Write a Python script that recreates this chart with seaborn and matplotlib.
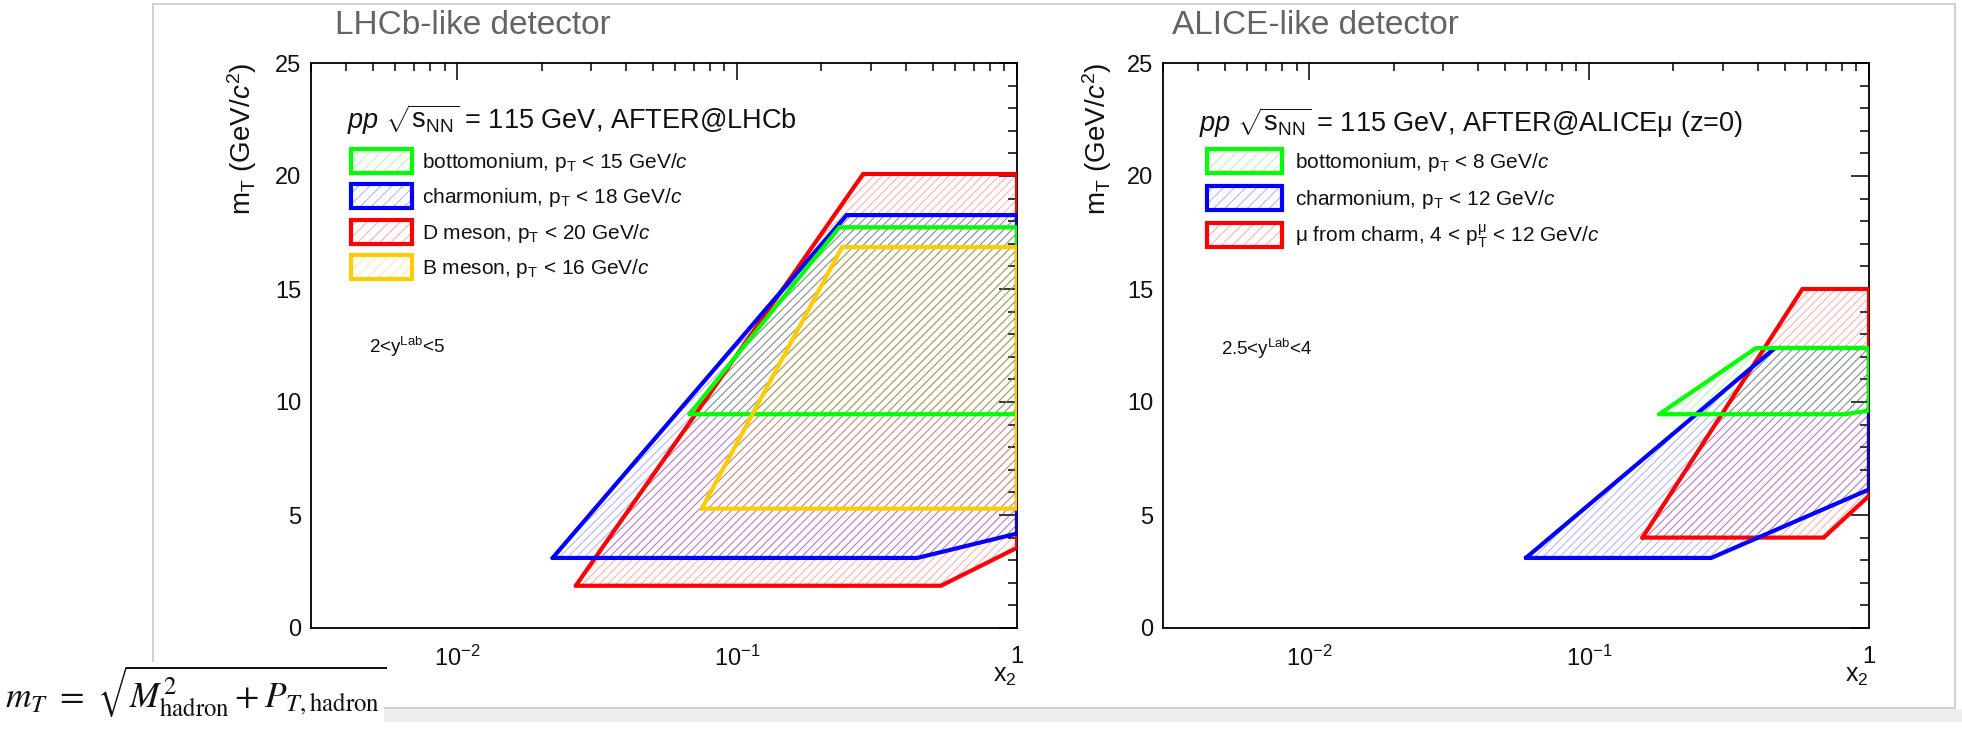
import matplotlib
matplotlib.use("Agg")
import matplotlib.pyplot as plt
import seaborn as sns
from matplotlib.patches import Rectangle, Patch
from matplotlib.legend_handler import HandlerTuple
from matplotlib.ticker import FixedLocator, FixedFormatter, MultipleLocator, LogLocator, NullFormatter

# ---------------- acceptance regions: x2 and mT (GeV/c^2) ----------------
# LHCb-like detector, 2 < y_Lab < 5
lhcb_bottomonium_x2 = [0.0676, 1.0, 1.0, 0.232]
lhcb_bottomonium_mt = [9.46, 9.46, 17.73, 17.73]
lhcb_charmonium_x2 = [0.0219, 0.44, 1.0, 1.0, 0.246]
lhcb_charmonium_mt = [3.10, 3.10, 4.18, 18.27, 18.27]
lhcb_dmeson_x2 = [0.0265, 0.535, 1.0, 1.0, 0.282]
lhcb_dmeson_mt = [1.87, 1.87, 3.55, 20.09, 20.09]
lhcb_bmeson_x2 = [0.0747, 1.0, 1.0, 0.237]
lhcb_bmeson_mt = [5.28, 5.28, 16.85, 16.85]

# ALICE-like detector (muon arm), 2.5 < y_Lab < 4
alice_bottomonium_x2 = [0.178, 0.821, 1.0, 1.0, 0.395]
alice_bottomonium_mt = [9.46, 9.46, 9.62, 12.39, 12.39]
alice_charmonium_x2 = [0.0594, 0.273, 1.0, 1.0, 0.461]
alice_charmonium_mt = [3.10, 3.10, 6.13, 12.39, 12.39]
alice_muon_x2 = [0.155, 0.689, 1.0, 1.0, 0.578]
alice_muon_mt = [4.0, 4.0, 5.85, 15.0, 15.0]

lhcb_labels = [
    r"bottomonium, p$_{\mathrm{T}}$ < 15 GeV/$c$",
    r"charmonium, p$_{\mathrm{T}}$ < 18 GeV/$c$",
    r"D meson, p$_{\mathrm{T}}$ < 20 GeV/$c$",
    r"B meson, p$_{\mathrm{T}}$ < 16 GeV/$c$",
]
alice_labels = [
    r"bottomonium, p$_{\mathrm{T}}$ < 8 GeV/$c$",
    r"charmonium, p$_{\mathrm{T}}$ < 12 GeV/$c$",
    r"μ from charm, 4 < p$_{\mathrm{T}}^{\mathrm{\mu}}$ < 12 GeV/$c$",
]

x_ticks = [1e-2, 1e-1, 1.0]
x_tick_labels = [r"$10^{-2}$", r"$10^{-1}$", "1"]
y_ticks = [0, 5, 10, 15, 20, 25]

# ---------------- style ----------------
GREEN, BLUE, RED, ORANGE = "#00ff00", "#0000ff", "#ff0000", "#ffcc00"
HATCH = {
    GREEN: (0.0, 0.9, 0.0, 0.32),
    BLUE: (0.0, 0.0, 1.0, 0.32),
    RED: (1.0, 0.0, 0.0, 0.34),
    ORANGE: (1.0, 0.75, 0.0, 0.35),
}
HATCH_PATTERN = "////"

sns.set_theme(style="white")
plt.rcParams["font.family"] = ["Liberation Sans", "DejaVu Sans"]
plt.rcParams["mathtext.fontset"] = "custom"
plt.rcParams["mathtext.rm"] = "Liberation Sans"
plt.rcParams["mathtext.it"] = "Liberation Sans:italic"
plt.rcParams["mathtext.bf"] = "Liberation Sans:bold"
plt.rcParams["hatch.linewidth"] = 0.7
plt.rcParams["axes.linewidth"] = 1.3

W, H = 1962, 730
fig = plt.figure(figsize=(W / 100, H / 100), dpi=100)
fig.patch.set_facecolor("white")


def fx(px):
    return px / W


def fy(py):
    return 1 - py / H


# slide frame and grey strip underneath
fig.add_artist(Rectangle((fx(0), fy(722)), 1, (722 - 709) / H, transform=fig.transFigure,
                         facecolor="#efefef", edgecolor="none", zorder=0))
fig.add_artist(Rectangle((fx(153), fy(708)), fx(1955) - fx(153), fy(4) - fy(708),
                         transform=fig.transFigure, facecolor="white", edgecolor="#c4c4c4",
                         lw=1.1, zorder=0))

AX_TOP, AX_BOT, AX_W = 63, 628, 706


def make_axes(left_px):
    ax = fig.add_axes([fx(left_px), fy(AX_BOT), AX_W / W, (AX_BOT - AX_TOP) / H])
    ax.set_facecolor("white")
    ax.set_xscale("log")
    ax.set_xlim(3e-3, 1.0)
    ax.set_ylim(0, 25)
    for s in ax.spines.values():
        s.set_visible(True)
        s.set_color("black")
        s.set_linewidth(1.3)
    ax.xaxis.set_major_locator(FixedLocator(x_ticks))
    ax.xaxis.set_major_formatter(FixedFormatter(x_tick_labels))
    ax.xaxis.set_minor_locator(LogLocator(base=10, subs=range(2, 10), numticks=20))
    ax.xaxis.set_minor_formatter(NullFormatter())
    ax.yaxis.set_major_locator(FixedLocator(y_ticks))
    ax.yaxis.set_minor_locator(MultipleLocator(1))
    ax.tick_params(which="both", direction="in", top=True, right=True, color="black",
                   width=1.1, labelsize=17, labelcolor="#111111")
    ax.tick_params(axis="y", which="major", length=13, pad=7)
    ax.tick_params(axis="y", which="minor", length=6.5)
    ax.tick_params(axis="x", which="major", length=12, pad=13)
    ax.tick_params(axis="x", which="minor", length=6)
    ax.set_ylabel(r"m$_{\mathrm{T}}$ (GeV/$c^{2}$)", fontsize=20, loc="top", color="#111111")
    ax.yaxis.label.set_va("center")
    ax.set_xlabel(r"x$_{2}$", fontsize=18, loc="right", color="#111111")
    ax.xaxis.set_label_coords(1.0, -0.085)
    ax.xaxis.label.set_va("center")
    return ax


def draw_region(ax, xs, ys, color):
    ax.fill(xs, ys, facecolor="none", edgecolor=HATCH[color], hatch=HATCH_PATTERN, lw=0, zorder=2)
    sns.lineplot(x=xs + xs[:1], y=ys + ys[:1], sort=False, estimator=None, color=color,
                 lw=3, solid_joinstyle="miter", ax=ax, zorder=3)


def region_handle(color):
    return (Patch(facecolor="none", edgecolor=HATCH[color], hatch="///", lw=0),
            Patch(facecolor="none", edgecolor=color, lw=3))


# ---------------- LHCb-like panel ----------------
ax1 = make_axes(311)
draw_region(ax1, lhcb_dmeson_x2, lhcb_dmeson_mt, RED)
draw_region(ax1, lhcb_charmonium_x2, lhcb_charmonium_mt, BLUE)
draw_region(ax1, lhcb_bottomonium_x2, lhcb_bottomonium_mt, GREEN)
draw_region(ax1, lhcb_bmeson_x2, lhcb_bmeson_mt, ORANGE)
ax1.yaxis.set_label_coords(-0.0977, 1.0)
ax1.text(0.0506, 0.899, r"$pp$ $\sqrt{\mathrm{s}_{\mathrm{NN}}}$ = 115 GeV, AFTER@LHCb",
         transform=ax1.transAxes, fontsize=19.5, va="center", ha="left", color="#111111")
ax1.text(0.082, 0.497, r"2<y$^{\mathrm{Lab}}$<5", transform=ax1.transAxes, fontsize=13.5,
         va="center", ha="left", color="#111111")
ax1.legend([region_handle(c) for c in (GREEN, BLUE, RED, ORANGE)], lhcb_labels,
           handler_map={tuple: HandlerTuple(ndivide=1, pad=0)},
           loc="upper left", bbox_to_anchor=(0.0562, 0.8478), frameon=False,
           prop={"size": 15}, handlelength=2.93, handleheight=1.39, labelspacing=0.5,
           handletextpad=0.48, borderpad=0, borderaxespad=0, labelcolor="#111111")

# ---------------- ALICE-like panel ----------------
ax2 = make_axes(1163)
draw_region(ax2, alice_muon_x2, alice_muon_mt, RED)
draw_region(ax2, alice_charmonium_x2, alice_charmonium_mt, BLUE)
draw_region(ax2, alice_bottomonium_x2, alice_bottomonium_mt, GREEN)
ax2.yaxis.set_label_coords(-0.0935, 1.0)
ax2.text(0.051, 0.894, r"$pp$ $\sqrt{\mathrm{s}_{\mathrm{NN}}}$ = 115 GeV, AFTER@ALICEμ (z=0)",
         transform=ax2.transAxes, fontsize=19.5, va="center", ha="left", color="#111111")
ax2.text(0.082, 0.494, r"2.5<y$^{\mathrm{Lab}}$<4", transform=ax2.transAxes, fontsize=13.5,
         va="center", ha="left", color="#111111")
ax2.legend([region_handle(c) for c in (GREEN, BLUE, RED)], alice_labels,
           handler_map={tuple: HandlerTuple(ndivide=1, pad=0)},
           loc="upper left", bbox_to_anchor=(0.0623, 0.848), frameon=False,
           prop={"size": 15}, handlelength=3.6, handleheight=1.44, labelspacing=0.55,
           handletextpad=0.62, borderpad=0, borderaxespad=0, labelcolor="#111111")

# panel titles
fig.text(fx(335), fy(25), "LHCb-like detector", fontsize=24, color="#646464", va="center", ha="left")
fig.text(fx(1172), fy(25), "ALICE-like detector", fontsize=24, color="#646464", va="center", ha="left")

# transverse-mass definition in the corner
fig.add_artist(Rectangle((0, 0), fx(384), fy(662), transform=fig.transFigure,
                         facecolor="white", edgecolor="none", zorder=1))
fig.text(fx(5), fy(708), r"$m_T\ =\ \sqrt{M^2_{\mathrm{hadron}} + P_{T,\mathrm{hadron}}}$",
         fontsize=25.5, math_fontfamily="stix", va="baseline", ha="left", color="#111111", zorder=2)

fig.savefig("out.png", dpi=100, facecolor="white")
